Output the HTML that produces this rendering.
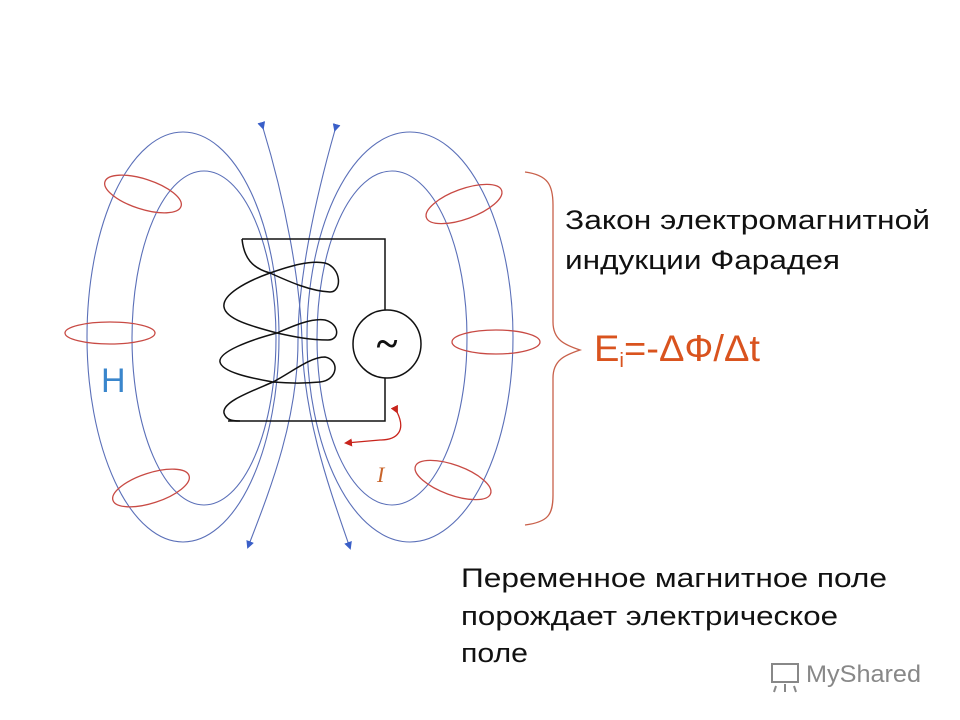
<!DOCTYPE html>
<html><head><meta charset="utf-8"><style>
html,body{margin:0;padding:0;background:#fff;}
svg{display:block;}
</style></head><body>
<svg width="960" height="720" viewBox="0 0 960 720" xmlns="http://www.w3.org/2000/svg">
<defs>
<marker id="ab" markerWidth="8" markerHeight="8" refX="6" refY="4" orient="auto" markerUnits="userSpaceOnUse">
<path d="M0,0 L8,4 L0,8 z" fill="#3a5fc8"/></marker>
<marker id="ar" markerWidth="8" markerHeight="8" refX="6" refY="4" orient="auto" markerUnits="userSpaceOnUse">
<path d="M0,0 L8,4 L0,8 z" fill="#c8241c"/></marker>
</defs>
<g fill="none" stroke="#5a6fb8" stroke-width="1.1">
<ellipse cx="183" cy="337" rx="96" ry="205"/>
<ellipse cx="204" cy="338" rx="72" ry="167"/>
<ellipse cx="410" cy="337" rx="103" ry="205"/>
<ellipse cx="392" cy="338" rx="75" ry="167"/>
<path d="M263,128 C285,200 300,280 302,340 C304,420 330,490 350,548" marker-start="url(#ab)" marker-end="url(#ab)"/>
<path d="M335,130 C315,200 298,280 298,340 C298,420 270,490 248,547" marker-start="url(#ab)" marker-end="url(#ab)"/>
</g>
<g fill="none" stroke="#c84a44" stroke-width="1.3">
<ellipse cx="143" cy="194" rx="40" ry="15" transform="rotate(18 143 194)"/>
<ellipse cx="110" cy="333" rx="45" ry="11"/>
<ellipse cx="151" cy="488" rx="40" ry="15" transform="rotate(-18 151 488)"/>
<ellipse cx="464" cy="204" rx="40" ry="15" transform="rotate(-20 464 204)"/>
<ellipse cx="496" cy="342" rx="44" ry="12"/>
<ellipse cx="453" cy="480" rx="40" ry="15" transform="rotate(20 453 480)"/>
</g>
<g fill="none" stroke="#111" stroke-width="1.5">
<path d="M242,239 L385,239 L385,310"/>
<path d="M385,378 L385,421 L228,421"/>
<circle cx="387" cy="344" r="34"/>
<path d="M242,239 C244,258 252,268 270,273 C290,266 310,260 325,263 C342,268 342,292 330,292 C310,291 290,282 270,273 C245,282 222,295 224,307 C226,320 255,327 277,333 C295,325 312,318 325,320 C340,324 340,340 328,340 C310,340 295,337 277,333 C250,340 218,352 220,362 C222,372 250,378 273,382 C292,372 310,357 325,357 C340,360 338,380 320,382 C300,384 285,383 273,382 C250,392 222,402 224,413 C226,420 232,421 240,421"/>
</g>
<text x="387" y="357" font-family="Liberation Serif, serif" font-size="40" text-anchor="middle" fill="#111" font-weight="bold">~</text>
<path d="M397,412 C406,430 398,440 380,440 L346,443" fill="none" stroke="#c8241c" stroke-width="1.3" marker-start="url(#ar)" marker-end="url(#ar)"/>
<text x="377" y="482" font-family="Liberation Serif, serif" font-style="italic" font-size="22" fill="#c8642a">I</text>
<text x="101" y="392" font-family="Liberation Sans, sans-serif" font-size="34" fill="#3a86cc">H</text>
<path d="M525,172 C548,175 553,185 553,205 L553,322 C553,340 565,345 580,350 C565,355 553,360 553,378 L553,495 C553,515 548,522 525,525" fill="none" stroke="#c8604a" stroke-width="1.3"/>
<g font-family="Liberation Sans, sans-serif" fill="#111">
<text x="565" y="229" font-size="27" textLength="365" lengthAdjust="spacingAndGlyphs">Закон электромагнитной</text>
<text x="565" y="269" font-size="27" textLength="275" lengthAdjust="spacingAndGlyphs">индукции Фарадея</text>
<text x="461" y="587" font-size="27" textLength="426" lengthAdjust="spacingAndGlyphs">Переменное магнитное поле</text>
<text x="461" y="625" font-size="27" textLength="377" lengthAdjust="spacingAndGlyphs">порождает электрическое</text>
<text x="461" y="662" font-size="27" textLength="67" lengthAdjust="spacingAndGlyphs">поле</text>
</g>
<text x="594" y="361" font-family="Liberation Sans, sans-serif" font-size="37" fill="#d9531e" textLength="166" lengthAdjust="spacingAndGlyphs">E<tspan font-size="20" dy="6">i</tspan><tspan dy="-6">=-ΔФ/Δt</tspan></text>
<g fill="none" stroke="#888" stroke-width="2">
<rect x="772" y="664" width="26" height="18"/>
<path d="M776,686 L774,692 M785,684 L785,692 M794,686 L796,692"/>
</g>
<text x="806" y="682" font-family="Liberation Sans, sans-serif" font-size="24" fill="#888" textLength="115" lengthAdjust="spacingAndGlyphs">MyShared</text>
</svg>
</body></html>
